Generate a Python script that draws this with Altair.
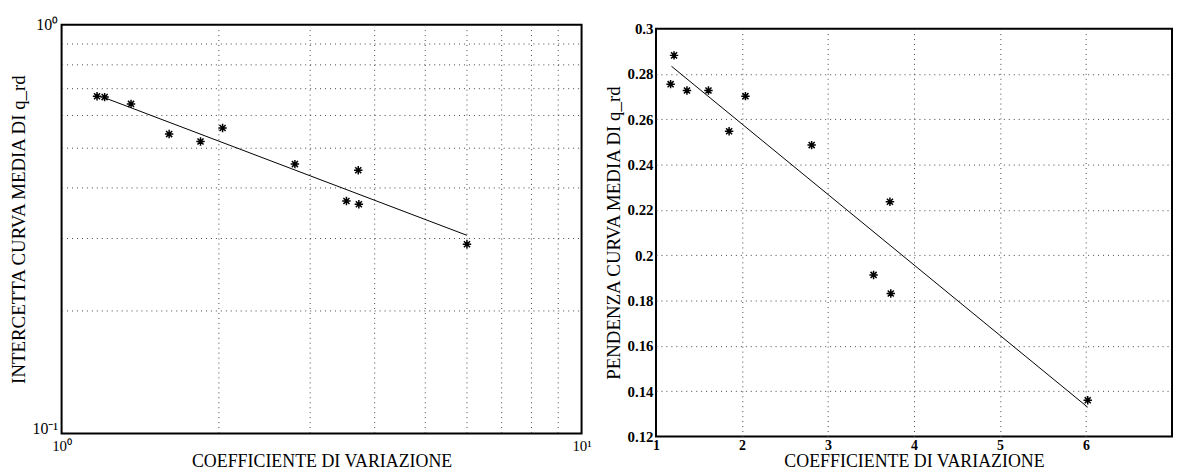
import altair as alt
import pandas as pd

# ---- data ----
cv = [1.17, 1.21, 1.36, 1.61, 1.85, 2.04, 2.81, 3.53, 3.72, 3.73, 6.02]
intercetta = [0.668, 0.665, 0.640, 0.540, 0.518, 0.559, 0.456, 0.3705, 0.4406, 0.3636, 0.2903]
pendenza = [0.2755, 0.2882, 0.2727, 0.2727, 0.2547, 0.2702, 0.2486, 0.1913, 0.2236, 0.1831, 0.1360]

fit_int_x = [1.21, 6.02]
fit_int_y = [0.6625, 0.3053]
fit_pen_x = [1.18, 6.02]
fit_pen_y = [0.2834, 0.1329]

x_ticks_log = [1, 2, 3, 4, 5, 6, 7, 8, 9, 10]
y_ticks_log = [0.1, 0.2, 0.3, 0.4, 0.5, 0.6, 0.7, 0.8, 0.9, 1.0]
x_ticks_lin = [1, 2, 3, 4, 5, 6, 7]
y_ticks_lin = [0.12, 0.14, 0.16, 0.18, 0.2, 0.22, 0.24, 0.26, 0.28, 0.3]

pts = pd.DataFrame({"cv": cv, "intercetta": intercetta, "pendenza": pendenza})
fit_i = pd.DataFrame({"cv": fit_int_x, "y": fit_int_y})
fit_p = pd.DataFrame({"cv": fit_pen_x, "y": fit_pen_y})

SERIF = "Liberation Serif"
ASTER = "M-1,0L1,0M0,-1L0,1M-0.72,-0.72L0.72,0.72M-0.72,0.72L0.72,-0.72"


def axis_common(edge_test, title_size):
    return dict(
        grid=True, gridDash=[1, 4], gridColor="#444444", gridWidth=1,
        gridOpacity={"condition": {"test": edge_test, "value": 0}, "value": 1},
        ticks=False, domain=False, labelFont=SERIF, titleFont=SERIF,
        titleFontSize=title_size, titleFontWeight="normal", titleColor="black",
        labelColor="black", labelOverlap=False, labelFlush=False,
    )


# ---- left panel (log-log) ----
lx_scale = alt.Scale(type="log", domain=[1, 10], nice=False)
lx = alt.X("cv:Q", scale=lx_scale,
           axis=alt.Axis(title="COEFFICIENTE DI VARIAZIONE", values=x_ticks_log,
                         labelExpr="datum.value == 1 ? '10⁰' : (datum.value == 10 ? '10¹' : '')",
                         labelFontSize=15, labelPadding=5, titlePadding=-1,
                         **axis_common("datum.value <= 1 || datum.value >= 10", 18)))
ly_axis = alt.Axis(title="INTERCETTA CURVA MEDIA DI q_rd", values=y_ticks_log,
                   labelExpr="datum.value > 0.99 ? '10⁰' : (datum.value < 0.11 ? '10⁻¹' : '')",
                   labelOffset={"condition": {"test": "datum.value < 0.11", "value": -5}, "value": 0},
                   labelFontSize=16, labelPadding=4, titlePadding=4,
                   **axis_common("datum.value <= 0.101 || datum.value >= 0.99", 19))
ly_scale = alt.Scale(type="log", domain=[0.1, 1], nice=False)

left_pts = alt.Chart(pts).mark_point(shape=ASTER, size=72, filled=False, color="black",
                                     strokeWidth=1.5, opacity=1).encode(
    x=lx, y=alt.Y("intercetta:Q", scale=ly_scale, axis=ly_axis))
left_line = alt.Chart(fit_i).mark_line(color="black", strokeWidth=1).encode(
    x=alt.X("cv:Q", scale=lx_scale), y=alt.Y("y:Q", scale=ly_scale))
left = alt.layer(left_line, left_pts).properties(
    width=524, height=412, view=alt.ViewBackground(stroke="black", strokeWidth=2))

# ---- right panel (linear) ----
rx_scale = alt.Scale(domain=[1, 7], nice=False, zero=False)
rx = alt.X("cv:Q", scale=rx_scale,
           axis=alt.Axis(title="COEFFICIENTE DI VARIAZIONE", values=x_ticks_lin, format="d",
                         labelExpr="datum.value == 7 ? '' : datum.label",
                         labelFontSize=14, labelFontWeight="bold", labelPadding=2, titlePadding=0,
                         **axis_common("datum.value <= 1 || datum.value >= 7", 18)))
ry_axis = alt.Axis(title="PENDENZA CURVA MEDIA DI q_rd", values=y_ticks_lin, format=".2~f",
                   labelFontSize=15, labelFontWeight="bold", labelPadding=3, titlePadding=4,
                   **axis_common("datum.value <= 0.121 || datum.value >= 0.299", 19))
ry_scale = alt.Scale(domain=[0.12, 0.3], nice=False, zero=False)

right_pts = alt.Chart(pts).mark_point(shape=ASTER, size=72, filled=False, color="black",
                                      strokeWidth=1.5, opacity=1).encode(
    x=rx, y=alt.Y("pendenza:Q", scale=ry_scale, axis=ry_axis))
right_line = alt.Chart(fit_p).mark_line(color="black", strokeWidth=1).encode(
    x=alt.X("cv:Q", scale=rx_scale), y=alt.Y("y:Q", scale=ry_scale))
right = alt.layer(right_line, right_pts).properties(
    width=520, height=411, view=alt.ViewBackground(stroke="black", strokeWidth=2))

spacer = alt.Chart(pd.DataFrame({"v": [0]})).mark_point(opacity=0).encode(
    x=alt.value(0), y=alt.value(0)).properties(width=520, height=1,
                                               view=alt.ViewBackground(stroke=None))

right_col = alt.vconcat(spacer, right, spacing=3, bounds="flush")

chart = alt.hconcat(left, right_col, spacing=75, bounds="flush").properties(
    padding={"left": 0, "top": 6, "right": 0, "bottom": 0}
).configure(background="white")

chart.save("out.html", embed_options={"renderer": "svg", "actions": False})
